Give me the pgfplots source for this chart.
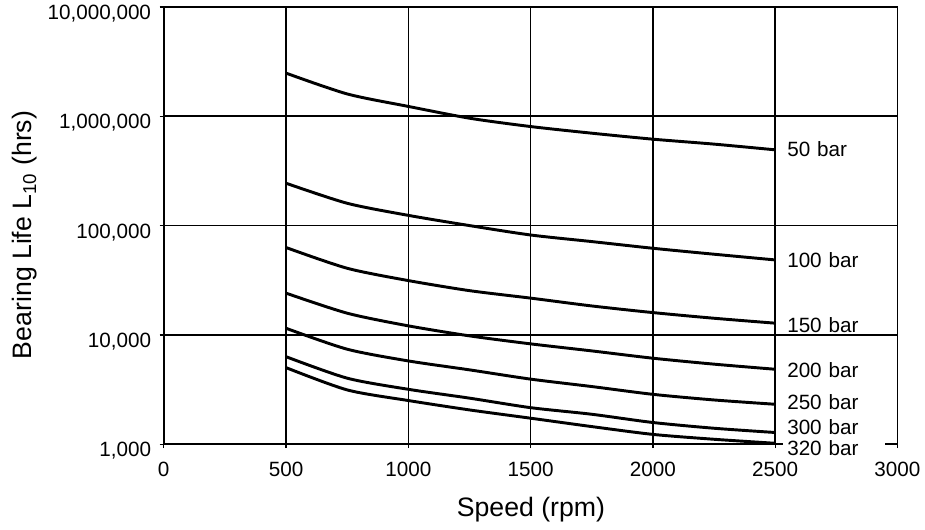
\documentclass[border=0pt]{standalone}
\usepackage{fontspec}
\setmainfont{Liberation Sans}
\usepackage{pgfplots}
\pgfplotsset{compat=1.18}
\tikzset{lbl/.style={anchor=west, fill=white, inner xsep=3pt, inner ysep=1pt, text width=70pt, font=\fontsize{15.5}{18}\selectfont}}

\pgfplotstableread{
x     p50      p100    p150   p200   p250   p300  p320
500   2480000  244000  63000  24100  11500  6320  5020
750   1600000  160000  40700  15800  7400   4020  3140
1000  1230000  124000  31400  12100  5780   3180  2510
1250  960000   100000  25400  9800   4790   2640  2060
1500  805000   82000   21700  8280   3940   2160  1730
1750  700000   71400   18400  7140   3370   1880  1450
2000  617000   62000   16000  6120   2860   1580  1230
2250  556000   54700   14200  5400   2540   1400  1110
2500  493000   48500   12800  4850   2320   1280  1020
}\datatable

\begin{document}
\begin{tikzpicture}
\begin{axis}[
  scale only axis, width=550.35pt, height=328pt,
  xmin=0, xmax=3000, ymode=log, ymin=1000, ymax=10000000,
  xtick={0,500,1000,1500,2000,2500,3000},
  xticklabels={0,500,1000,1500,2000,2500,3000},
  ytick={1000,10000,100000,1000000,10000000},
  yticklabels={{1,000},{10,000},{100,000},{1,000,000},{10,000,000}},
  yminorticks=false, xminorticks=false,
  xtick pos=bottom, ytick pos=left,
  tick align=outside, major tick length=3pt,
  tick style={black, line width=1pt},
  xmajorgrids, ymajorgrids,
  grid style={black, line width=1.2pt},
  axis line style={black, line width=1.4pt},
  ticklabel style={font=\fontsize{15.5}{18}\selectfont},
  yticklabel style={yshift=-5pt, xshift=-3pt},
  xticklabel style={yshift=-7pt},
  xlabel={Speed (rpm)},
  ylabel={Bearing Life L\textsubscript{10} (hrs)},
  every axis x label/.style={at={(axis description cs:0.5005,-0.150)},anchor=center,font=\fontsize{20}{24}\selectfont},
  every axis y label/.style={at={(axis description cs:-0.189,0.4786)},anchor=center,rotate=90,font=\fontsize{20}{24}\selectfont},
  clip=false,
  every axis plot post/.append style={black, solid, line width=2.2pt, smooth, tension=0.45, mark=none},
]
\addplot table[x=x, y=p50] {\datatable};
\addplot table[x=x, y=p100] {\datatable};
\addplot table[x=x, y=p150] {\datatable};
\addplot table[x=x, y=p200] {\datatable};
\addplot table[x=x, y=p250] {\datatable};
\addplot table[x=x, y=p300] {\datatable};
\addplot table[x=x, y=p320] {\datatable};

\coordinate (l50) at (rel axis cs:0.844,0.675);
\coordinate (l100) at (rel axis cs:0.844,0.4214);
\coordinate (l150) at (rel axis cs:0.844,0.2728);
\coordinate (l200) at (rel axis cs:0.844,0.170);
\coordinate (l250) at (rel axis cs:0.844,0.0974);
\coordinate (l300) at (rel axis cs:0.844,0.038);
\coordinate (l320) at (rel axis cs:0.844,-0.0091);
\end{axis}
\node[lbl] at (l50) {50 bar};
\node[lbl] at (l100) {100 bar};
\node[lbl] at (l150) {150 bar};
\node[lbl] at (l200) {200 bar};
\node[lbl] at (l250) {250 bar};
\node[lbl] at (l300) {300 bar};
\node[lbl] at (l320) {320 bar};
\pgfresetboundingbox
\path (-122.8pt,-64.3pt) rectangle (571pt,333.2pt);
\end{tikzpicture}
\end{document}
